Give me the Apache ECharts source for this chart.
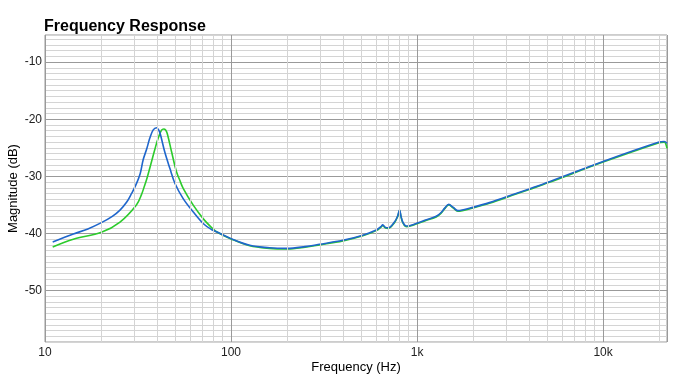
<!DOCTYPE html>
<html>
<head>
<meta charset="utf-8">
<script src="https://cdn.jsdelivr.net/npm/echarts@6/dist/echarts.min.js"></script>
<style>html,body{margin:0;padding:0;background:#fff;}#c{width:700px;height:381px;}</style>
</head>
<body>
<div id="c"></div>
<script>
// Blue trace
var blueFreq = [11, 14.2, 17, 20.1, 23, 25.3, 27.5, 29.2, 30.8, 32.5, 33.7, 35.2, 36.6, 38.1, 39.8, 41.0, 41.8, 44.0, 46.9, 49.9, 55.3, 62.5, 70.8, 78.5, 83.5, 100, 126, 161, 200, 250, 299, 399, 511, 603, 640, 654, 677, 700, 756, 785, 805, 820, 838, 873, 920, 988, 1100, 1267, 1350, 1404, 1480, 1560, 1655, 1750, 1911, 2449, 3404, 4010, 5140, 10000, 20000, 21300, 22050];
var blueDb = [-41.5, -40.1, -39.2, -38.1, -37.0, -35.9, -34.5, -33.0, -31.5, -29.5, -27.1, -25.2, -23.3, -21.9, -21.5, -22.0, -22.75, -25.7, -28.6, -31.2, -33.9, -36.2, -38.25, -39.3, -39.7, -40.9, -42.05, -42.5, -42.6, -42.3, -41.9, -41.2, -40.3, -39.4, -38.8, -38.5, -38.95, -39.0, -38.0, -37.0, -35.9, -37.0, -38.0, -38.7, -38.6, -38.25, -37.7, -37.0, -36.3, -35.6, -34.9, -35.4, -36.0, -35.9, -35.6, -34.6, -33.0, -32.2, -30.95, -27.4, -24.0, -23.9, -24.2];
// Green trace
var greenFreq = [11, 14.2, 20.1, 25.3, 31.0, 33.0, 34.4, 35.1, 37.4, 39.0, 40.6, 42.3, 43.5, 44.5, 45.4, 47.9, 50.9, 52.9, 55.3, 62.5, 70.8, 78.5, 83.5, 100, 126, 161, 200, 250, 299, 399, 511, 603, 640, 654, 677, 700, 756, 785, 805, 820, 838, 873, 920, 988, 1100, 1267, 1350, 1404, 1480, 1560, 1655, 1750, 1911, 2449, 3404, 4010, 5140, 10000, 20000, 21300, 22050];
var greenDb = [-42.35, -41.0, -39.8, -38.0, -35.0, -33.2, -31.5, -30.65, -27.4, -25.2, -23.3, -21.9, -21.7, -21.9, -22.5, -25.7, -29.2, -30.6, -32.1, -35.0, -37.4, -38.95, -39.7, -40.95, -42.15, -42.6, -42.7, -42.4, -42.0, -41.3, -40.4, -39.5, -38.9, -38.6, -39.05, -39.1, -38.1, -37.1, -36.0, -37.1, -38.1, -38.8, -38.7, -38.35, -37.8, -37.1, -36.4, -35.7, -35.0, -35.5, -36.1, -36.0, -35.7, -34.7, -33.1, -32.3, -31.05, -27.5, -24.1, -24.0, -25.1];
// Axis ticks
var xMajorTicks = [10, 100, 1000, 10000];
var xTickLabels = ['10', '100', '1k', '10k'];
var xMinorTicks = [20, 30, 40, 50, 60, 70, 80, 90, 200, 300, 400, 500, 600, 700, 800, 900, 2000, 3000, 4000, 5000, 6000, 7000, 8000, 9000, 20000];
var yTickLabels = [-50, -40, -30, -20, -10];

function pairs(xs, ys) { return xs.map(function (x, i) { return [x, ys[i]]; }); }

var FONT = '"Liberation Sans", Arial, Helvetica, sans-serif';
var minorColor = '#d4d4d4';
var majorColor = '#9a9a9a';
var ySplitColors = [];
for (var i = 0; i < 10; i++) ySplitColors.push(i === 9 ? majorColor : minorColor);

var chart = echarts.init(document.getElementById('c'), null, { renderer: 'canvas' });
chart.setOption({
  animation: false,
  backgroundColor: '#fff',
  title: {
    text: 'Frequency Response',
    left: 44, top: 19, padding: 0,
    textStyle: { fontFamily: FONT, fontSize: 16, fontWeight: 'bold', color: '#000' }
  },
  grid: { left: 45, right: 33, top: 35, bottom: 39, containLabel: false, outerBoundsMode: 'none', show: true, borderColor: majorColor, borderWidth: 1, backgroundColor: 'transparent' },
  xAxis: {
    type: 'log', logBase: 10, min: 10, max: 22050,
    name: 'Frequency (Hz)', nameLocation: 'middle', nameGap: 19, nameMoveOverlap: false,
    nameTextStyle: { fontFamily: FONT, fontSize: 13, color: '#000' },
    axisLine: { show: false }, axisTick: { show: false },
    axisLabel: {
      fontFamily: FONT, fontSize: 12, color: '#222', margin: 5, showMaxLabel: false,
      formatter: function (v) { var k = xMajorTicks.indexOf(Math.round(v)); return k >= 0 ? xTickLabels[k] : ''; }
    },
    splitLine: { show: true, lineStyle: { color: majorColor, width: 1 } }
  },
  yAxis: {
    type: 'value', min: -59, max: -5.25, interval: 1,
    name: 'Magnitude (dB)', nameLocation: 'middle', nameGap: 25, nameRotate: 90, nameMoveOverlap: false,
    nameTextStyle: { fontFamily: FONT, fontSize: 13, color: '#000' },
    axisLine: { show: false }, axisTick: { show: false },
    axisLabel: {
      fontFamily: FONT, fontSize: 12, color: '#222', margin: 3, interval: 0,
      showMinLabel: true, showMaxLabel: false,
      formatter: function (v) { return yTickLabels.indexOf(Math.round(v * 100) / 100) >= 0 ? String(v) : ''; }
    },
    splitLine: { show: true, lineStyle: { color: ySplitColors, width: 1 } }
  },
  series: [
    {
      type: 'line', name: 'grid', data: [], z: 1, silent: true,
      markLine: {
        silent: true, symbol: ['none', 'none'], animation: false,
        label: { show: false },
        lineStyle: { color: minorColor, type: 'solid', width: 1 },
        emphasis: { disabled: true },
        data: xMinorTicks.map(function (f) { return { xAxis: f }; })
      }
    },
    {
      type: 'line', name: 'green', data: pairs(greenFreq, greenDb), z: 3,
      showSymbol: false, smooth: 0.35,
      lineStyle: { color: '#2ccb2c', width: 1.6 }, itemStyle: { color: '#2ccb2c' }
    },
    {
      type: 'line', name: 'blue', data: pairs(blueFreq, blueDb), z: 4,
      showSymbol: false, smooth: 0.35,
      lineStyle: { color: '#1f66cc', width: 1.6 }, itemStyle: { color: '#1f66cc' }
    }
  ]
});
</script>
</body>
</html>
